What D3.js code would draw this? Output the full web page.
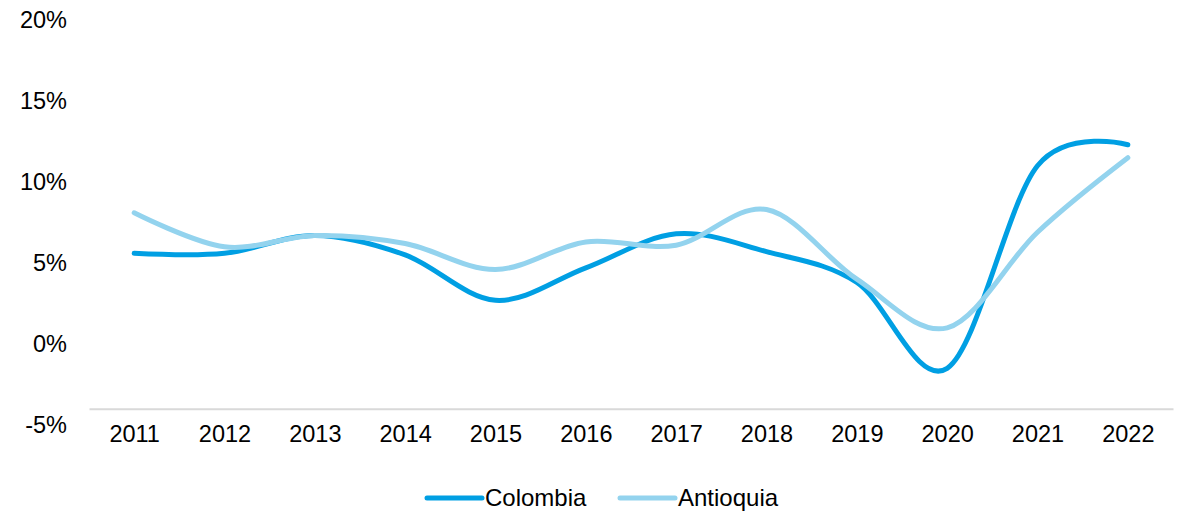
<!DOCTYPE html>
<html lang="es">
<head>
    <meta charset="UTF-8">
    <title>Colombia vs Antioquia</title>
    <script src="https://d3js.org/d3.v7.min.js"></script>
    <style>
        body { margin: 0; background: #fff; }
        svg text { font-family: "Liberation Sans", Arial, sans-serif; fill: #000; }
    </style>
</head>
<body>
<svg id="chart" width="1183" height="512"></svg>

<script>
    // data (growth rates)
    const years = ["2011", "2012", "2013", "2014", "2015", "2016", "2017", "2018", "2019", "2020", "2021", "2022"];
    const colombia = [0.056, 0.056, 0.067, 0.055, 0.027, 0.047, 0.068, 0.057, 0.038, -0.015, 0.110, 0.123];
    const antioquia = [0.081, 0.060, 0.067, 0.062, 0.046, 0.063, 0.061, 0.083, 0.040, 0.010, 0.069, 0.115];
    const yTicks = [-0.05, 0, 0.05, 0.10, 0.15, 0.20];

    const series = [
        { name: "Colombia", values: colombia, color: "#009fe3" },
        { name: "Antioquia", values: antioquia, color: "#93d3ee" }
    ];

    const svg = d3.select("#chart");
    const fontSize = 23.5;

    const x = d3.scalePoint()
        .domain(years)
        .range([89, 1173])
        .padding(0.5);

    const y = d3.scaleLinear()
        .domain([-0.05, 0.20])
        .range([425, 20]);

    // y axis labels only
    const yAxis = svg.append("g")
        .attr("transform", "translate(67,0)")
        .call(d3.axisLeft(y).tickValues(yTicks).tickSize(0).tickPadding(0)
            .tickFormat(d => Math.round(d * 100) + "%"));
    yAxis.select(".domain").remove();
    yAxis.selectAll("text").style("font-size", fontSize + "px");

    // category axis sits at -4%
    const xAxis = svg.append("g")
        .attr("transform", "translate(0," + y(-0.04) + ")")
        .call(d3.axisBottom(x).tickSize(0).tickPadding(17).tickSizeOuter(0));
    xAxis.select(".domain").attr("stroke", "#d9d9d9").attr("stroke-width", 2);
    xAxis.selectAll("text").style("font-size", fontSize + "px");

    const line = d3.line()
        .x((d, i) => x(years[i]))
        .y(d => y(d))
        .curve(d3.curveCatmullRom.alpha(0));

    svg.append("g")
        .selectAll("path")
        .data(series).enter()
        .append("path")
        .attr("d", d => line(d.values))
        .attr("fill", "none")
        .attr("stroke", d => d.color)
        .attr("stroke-width", 5)
        .attr("stroke-linecap", "round");

    // legend
    const legendX = [427, 620];
    const legend = svg.append("g")
        .selectAll("g")
        .data(series).enter()
        .append("g")
        .attr("transform", (d, i) => "translate(" + legendX[i] + ",498)");
    legend.append("line")
        .attr("x1", 0).attr("x2", 55)
        .attr("stroke", d => d.color)
        .attr("stroke-width", 5)
        .attr("stroke-linecap", "round");
    legend.append("text")
        .attr("x", 58)
        .attr("dy", "0.35em")
        .style("font-size", "24px")
        .text(d => d.name);
</script>
</body>
</html>
